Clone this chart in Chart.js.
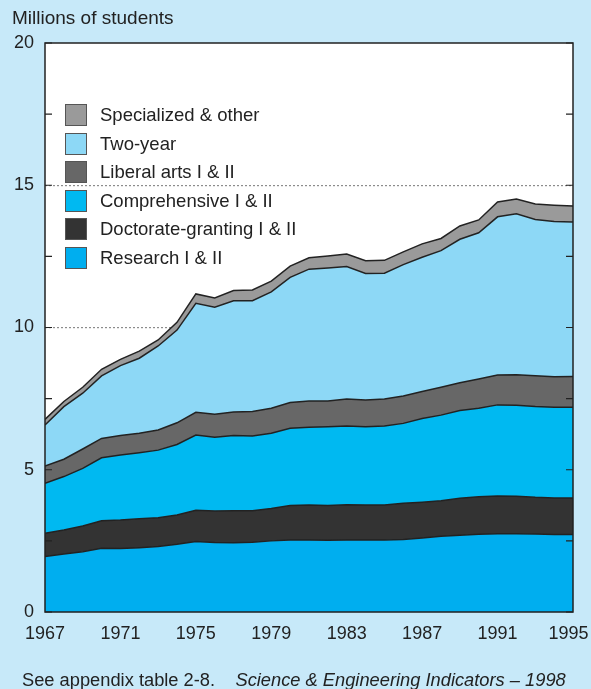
<!DOCTYPE html>
<html>
<head>
<meta charset="utf-8">
<script src="https://cdn.jsdelivr.net/npm/chart.js@4.4.1/dist/chart.umd.min.js"></script>
<style>
  html, body { margin: 0; padding: 0; }
  body {
    width: 591px; height: 689px; position: relative; overflow: hidden;
    background: #c7e9f9;
    font-family: "Liberation Sans", Arial, Helvetica, sans-serif;
    color: #222;
  }
  #chart { position: absolute; left: 0; top: 0; }
  .title { position: absolute; left: 12px; top: 7px; font-size: 19px; }
  .note { position: absolute; left: 22px; top: 669px; font-size: 18.3px; white-space: pre; }
  .legend { position: absolute; left: 65px; top: 104px; }
  .legend .row { position: absolute; left: 0; height: 22px; white-space: nowrap; }
  .legend .box { position: absolute; left: 0; top: 0; width: 20px; height: 20px; border: 1px solid #555; }
  .legend .lbl { position: absolute; left: 35px; top: 0; line-height: 22px; font-size: 18.5px; }
</style>
</head>
<body>
<canvas id="chart" width="591" height="689"></canvas>
<div class="title">Millions of students</div>
<div class="legend" id="legend"></div>
<div class="note">See appendix table 2-8.    <i>Science &amp; Engineering Indicators – 1998</i></div>
<script>
const years = [1967, 1968, 1969, 1970, 1971, 1972, 1973, 1974, 1975, 1976, 1977, 1978, 1979, 1980, 1981,
  1982, 1983, 1984, 1985, 1986, 1987, 1988, 1989, 1990, 1991, 1992, 1993, 1994, 1995];

// enrollment by institution type, millions
const research = [1.95, 2.04, 2.12, 2.24, 2.23, 2.26, 2.30, 2.38, 2.48, 2.44, 2.43, 2.45, 2.50, 2.53, 2.53,
  2.52, 2.53, 2.53, 2.53, 2.55, 2.60, 2.66, 2.70, 2.73, 2.75, 2.75, 2.74, 2.72, 2.72];
const doctorate = [0.82, 0.84, 0.90, 0.97, 1.00, 1.02, 1.01, 1.03, 1.10, 1.11, 1.13, 1.11, 1.14, 1.21, 1.23,
  1.22, 1.24, 1.23, 1.23, 1.27, 1.26, 1.25, 1.30, 1.32, 1.33, 1.32, 1.29, 1.29, 1.29];
const comprehensive = [1.75, 1.88, 2.03, 2.21, 2.29, 2.32, 2.38, 2.48, 2.64, 2.59, 2.64, 2.63, 2.64, 2.72, 2.73,
  2.77, 2.77, 2.75, 2.78, 2.81, 2.94, 3.01, 3.08, 3.11, 3.20, 3.20, 3.19, 3.19, 3.19];
const liberalArts = [0.61, 0.61, 0.68, 0.68, 0.68, 0.68, 0.71, 0.76, 0.80, 0.81, 0.83, 0.86, 0.88, 0.90, 0.93,
  0.91, 0.95, 0.94, 0.95, 0.96, 0.95, 0.98, 0.98, 1.03, 1.05, 1.07, 1.08, 1.07, 1.08];
const twoYear = [1.44, 1.85, 1.96, 2.20, 2.46, 2.64, 2.95, 3.26, 3.83, 3.76, 3.91, 3.89, 4.09, 4.40, 4.63,
  4.67, 4.65, 4.45, 4.42, 4.62, 4.72, 4.80, 5.04, 5.14, 5.56, 5.66, 5.50, 5.46, 5.43];
const specialized = [0.20, 0.18, 0.21, 0.23, 0.22, 0.25, 0.21, 0.27, 0.33, 0.33, 0.36, 0.38, 0.38, 0.40, 0.40,
  0.42, 0.44, 0.45, 0.45, 0.45, 0.47, 0.43, 0.47, 0.45, 0.52, 0.52, 0.54, 0.57, 0.56];

const xTicks = [1967, 1971, 1975, 1979, 1983, 1987, 1991, 1995];
const yTicks = [0, 5, 10, 15, 20];

const series = [
  { label: "Research I & II", data: research, color: "#00aeef" },
  { label: "Doctorate-granting I & II", data: doctorate, color: "#333333" },
  { label: "Comprehensive I & II", data: comprehensive, color: "#00b9f1" },
  { label: "Liberal arts I & II", data: liberalArts, color: "#676767" },
  { label: "Two-year", data: twoYear, color: "#8dd8f6" },
  { label: "Specialized & other", data: specialized, color: "#9a9a9a" },
];

// legend, top to bottom is the reverse of the stack
const legend = document.getElementById("legend");
series.slice().reverse().forEach((s, i) => {
  const row = document.createElement("div");
  row.className = "row";
  row.style.top = (i * 28.5) + "px";
  row.innerHTML = '<span class="box" style="background:' + s.color + '"></span><span class="lbl">' +
    s.label.replace("&", "&amp;") + "</span>";
  legend.appendChild(row);
});

// frame + inward tick marks on both sides
const framePlugin = {
  id: "frame",
  afterDatasetsDraw(chart) {
    const { ctx, chartArea: a } = chart;
    const ys = chart.scales.y;
    ctx.save();
    ctx.strokeStyle = "#222";
    ctx.lineWidth = 1.5;
    ctx.strokeRect(a.left, a.top, a.right - a.left, a.bottom - a.top);
    ctx.lineWidth = 1.2;
    ys.ticks.forEach(t => {
      const y = ys.getPixelForValue(t.value);
      ctx.beginPath();
      ctx.moveTo(a.left, y); ctx.lineTo(a.left + 7, y);
      ctx.moveTo(a.right - 7, y); ctx.lineTo(a.right, y);
      ctx.stroke();
    });
    ctx.restore();
  }
};

const font = { family: '"Liberation Sans", Arial, sans-serif', size: 18 };
const lastYear = xTicks[xTicks.length - 1];

new Chart(document.getElementById("chart"), {
  type: "line",
  data: {
    datasets: series.map((s, i) => ({
      label: s.label,
      data: years.map((yr, j) => ({ x: yr, y: s.data[j] })),
      backgroundColor: s.color,
      borderColor: "#222",
      borderWidth: 1.5,
      pointRadius: 0,
      tension: 0,
      fill: i === 0 ? "origin" : "-1",
    })),
  },
  options: {
    responsive: false,
    animation: false,
    layout: { padding: { left: 0, right: 18, top: 43, bottom: 37 } },
    plugins: { legend: { display: false }, tooltip: { enabled: false } },
    scales: {
      x: {
        type: "linear",
        min: 1967,
        max: 1995,
        afterBuildTicks: (s) => { s.ticks = xTicks.map(v => ({ value: v })); },
        ticks: {
          font, color: "#222", padding: 3, maxRotation: 0,
          // last label nudged left so it stays inside the window
          callback: v => (v === lastYear ? String(v) + "\u2002" : String(v)),
        },
        grid: { display: false },
        border: { display: false },
        afterFit: (s) => { s.height = 40; s.paddingLeft = 0; s.paddingRight = 0; },
      },
      y: {
        stacked: true,
        min: 0,
        max: 20,
        ticks: {
          stepSize: 2.5, font, color: "#222", padding: 11,
          callback: v => (yTicks.includes(v) ? String(v) : ""),
        },
        grid: {
          drawTicks: false,
          lineWidth: 1.2,
          color: c => ([5, 10, 15].includes(c.tick.value) ? "#8c8c8c" : "rgba(0,0,0,0)"),
        },
        border: { display: false, dash: [2, 2] },
        afterFit: (s) => { s.width = 45; },
      },
    },
  },
  plugins: [{
    id: "plotBg",
    beforeDraw(chart) {
      const { ctx, chartArea: a } = chart;
      ctx.save();
      ctx.fillStyle = "#fff";
      ctx.fillRect(a.left, a.top, a.right - a.left, a.bottom - a.top);
      ctx.restore();
    }
  }, framePlugin],
});
</script>
</body>
</html>
